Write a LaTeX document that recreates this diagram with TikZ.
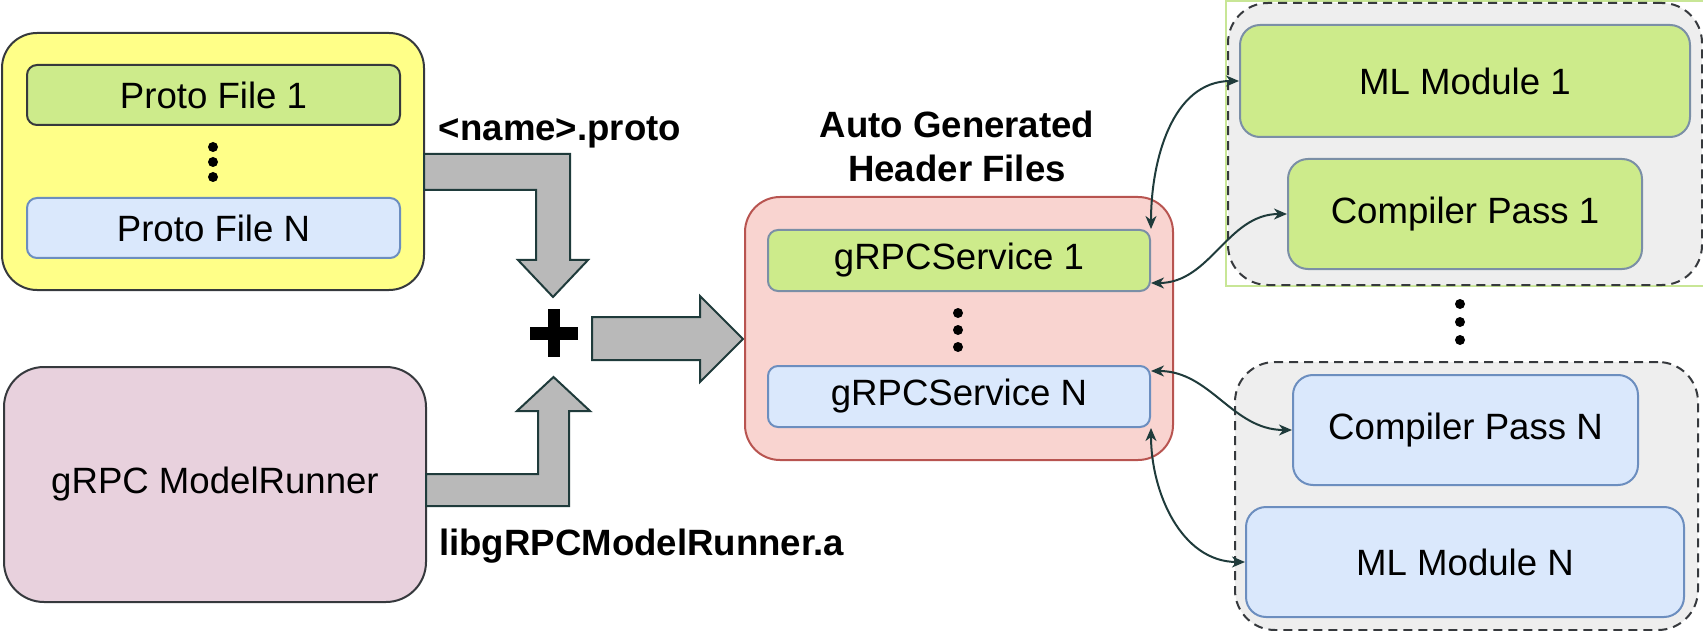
\documentclass[tikz,border=0pt]{standalone}
\usepackage{fontspec}
\setmainfont{Liberation Sans}
\usetikzlibrary{arrows.meta}
\definecolor{yellowfill}{HTML}{FFFF88}
\definecolor{darkstroke}{HTML}{36393D}
\definecolor{greenfill}{HTML}{CDEB8B}
\definecolor{greenstroke}{HTML}{7B8FA6}
\definecolor{bluefill}{HTML}{DAE8FC}
\definecolor{bluestroke}{HTML}{6C8EBF}
\definecolor{pinkfill}{HTML}{E8D1DD}
\definecolor{redfill}{HTML}{F9D4D0}
\definecolor{redstroke}{HTML}{B85450}
\definecolor{grayfill}{HTML}{EEEEEE}
\definecolor{arrowgray}{HTML}{B9B9B9}
\definecolor{connc}{HTML}{1F3B3B}
\definecolor{lightgreen}{HTML}{C8E696}
\begin{document}
\begin{tikzpicture}[x=1pt,y=1pt,
  txt/.style={font=\fontsize{36.6}{44}\selectfont},
  blbl/.style={font=\fontsize{36.6}{44}\selectfont\bfseries, inner sep=0pt},
  filebox/.style={draw, line width=2pt, rounded corners=10pt, inner sep=0pt, txt},
  modbox/.style={draw, line width=2pt, rounded corners=20pt, inner sep=0pt, txt},
  bigbox/.style={draw, line width=2pt, inner sep=0pt, txt},
  groupbox/.style={draw=darkstroke, fill=grayfill, line width=2pt, dash pattern=on 9pt off 6pt, rounded corners=40pt, inner sep=0pt},
  conn/.style={{Stealth[length=13pt,width=11pt,inset=4pt]}-{Stealth[length=13pt,width=11pt,inset=4pt]}, line width=2pt, draw=connc},
  garrow/.style={fill=arrowgray, draw=connc, line width=2pt, line join=miter}
]
\useasboundingbox (0,0) rectangle (1703,-631);

% thin light green frame
\draw[lightgreen, line width=1.5pt] (1226,-1) rectangle (1712,-286);

% left column
\node[bigbox, draw=darkstroke, fill=yellowfill, rounded corners=35pt, minimum width=422pt, minimum height=257pt] (yel) at (213,-161.5) {};
\node[filebox, draw=darkstroke, fill=greenfill, minimum width=373pt, minimum height=60pt] (pf1) at (213.5,-95) {Proto File 1};
\fill (213,-147) circle (5pt) (213,-162) circle (5pt) (213,-177) circle (5pt);
\node[filebox, draw=bluestroke, fill=bluefill, minimum width=373pt, minimum height=60pt] (pfN) at (213.5,-228) {Proto File N};
\node[bigbox, draw=darkstroke, fill=pinkfill, rounded corners=40pt, minimum width=422pt, minimum height=235pt] (mr) at (215,-484.5) {gRPC ModelRunner};

% labels
\node[blbl, anchor=base] (protolbl) at (560,-141) {\textless name\textgreater.proto};
\node[blbl, anchor=base] (liblbl) at (641.5,-555) {libgRPCModelRunner.a};
\node[blbl, anchor=base] (hdr1) at (957,-138) {Auto Generated};
\node[blbl, anchor=base] (hdr2) at (957,-182) {Header Files};

% block arrows
\draw[garrow] (424,-154) -- (570,-154) -- (570,-260) -- (588,-260) -- (553,-297) -- (518,-260) -- (536,-260) -- (536,-190) -- (424,-190) -- cycle;
\draw[garrow] (426,-474) -- (538,-474) -- (538,-411) -- (517,-411) -- (553.5,-377) -- (590,-411) -- (569,-411) -- (569,-506) -- (426,-506) -- cycle;
\draw[garrow] (592,-317) -- (700,-317) -- (700,-296) -- (743,-339) -- (700,-382) -- (700,-360) -- (592,-360) -- cycle;

% plus
\fill (548,-309) rectangle (560,-357);
\fill (530,-327) rectangle (578,-340);

% header files box
\node[bigbox, draw=redstroke, fill=redfill, rounded corners=35pt, minimum width=428pt, minimum height=263pt] (hdrbox) at (959,-328.5) {};
\node[filebox, draw=greenstroke, fill=greenfill, minimum width=382pt, minimum height=61pt] (gs1) at (959,-260.5) {gRPCService 1};
\fill (958,-313) circle (5pt) (958,-330) circle (5pt) (958,-347) circle (5pt);
\node[filebox, draw=bluestroke, fill=bluefill, minimum width=382pt, minimum height=61pt] (gsN) at (959,-396.5) {gRPCService N};

% right groups
\node[groupbox, minimum width=474pt, minimum height=282pt] (grp1) at (1465,-144) {};
\node[modbox, draw=greenstroke, fill=greenfill, minimum width=450pt, minimum height=112pt] (ml1) at (1465,-81) {ML Module 1};
\node[modbox, draw=greenstroke, fill=greenfill, minimum width=354pt, minimum height=110pt] (cp1) at (1465,-214) {Compiler Pass 1};
\fill (1460,-304) circle (5pt) (1460,-322) circle (5pt) (1460,-340) circle (5pt);
\node[groupbox, minimum width=463pt, minimum height=268pt] (grpN) at (1466.5,-496) {};
\node[modbox, draw=bluestroke, fill=bluefill, minimum width=345pt, minimum height=110pt] (cpN) at (1465.5,-430) {Compiler Pass N};
\node[modbox, draw=bluestroke, fill=bluefill, minimum width=438pt, minimum height=110pt] (mlN) at (1465,-562) {ML Module N};

% connectors
\draw[conn] (gs1.north east) to[out=90,in=180] (ml1.west);
\draw[conn] ([yshift=9pt]gs1.south east) to[out=0,in=180] (cp1.west);
\draw[conn] ([yshift=-6pt]gsN.north east) to[out=0,in=180] (cpN.west);
\draw[conn] (gsN.south east) to[out=-90,in=180] (mlN.west);
\end{tikzpicture}
\end{document}
